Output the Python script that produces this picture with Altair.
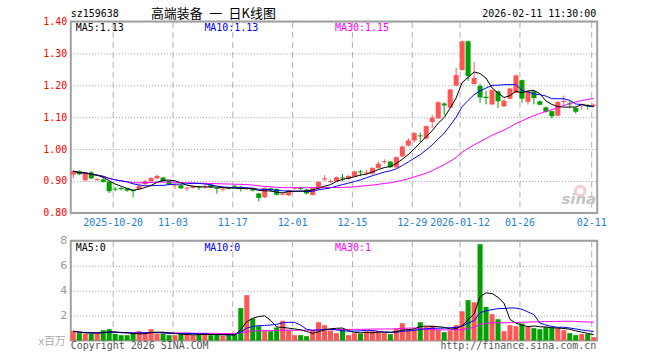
import altair as alt
import pandas as pd

# ---- data (88 trading days, 2025-10-09 .. 2026-02-11) ----
opens = [0.920, 0.931, 0.902, 0.927, 0.903, 0.905, 0.898, 0.876, 0.878, 0.877,
         0.872, 0.875, 0.890, 0.900, 0.908, 0.911, 0.900, 0.886, 0.887, 0.876,
         0.878, 0.883, 0.882, 0.889, 0.878, 0.873, 0.878, 0.885, 0.882, 0.874,
         0.875, 0.861, 0.849, 0.877, 0.875, 0.857, 0.855, 0.876, 0.878, 0.873,
         0.856, 0.877, 0.905, 0.897, 0.899, 0.911, 0.906, 0.914, 0.930, 0.924,
         0.923, 0.941, 0.959, 0.961, 0.943, 0.977, 1.011, 1.027, 1.043, 1.033,
         1.085, 1.096, 1.143, 1.130, 1.199, 1.248, 1.338, 1.204, 1.198, 1.164,
         1.140, 1.181, 1.134, 1.158, 1.176, 1.216, 1.148, 1.181, 1.150, 1.131,
         1.119, 1.105, 1.148, 1.143, 1.129, 1.138, 1.137, 1.136]
closes = [0.931, 0.921, 0.925, 0.908, 0.906, 0.897, 0.868, 0.873, 0.875, 0.870,
          0.868, 0.885, 0.900, 0.909, 0.916, 0.899, 0.890, 0.889, 0.877, 0.879,
          0.884, 0.880, 0.885, 0.880, 0.875, 0.876, 0.875, 0.882, 0.875, 0.877,
          0.870, 0.847, 0.878, 0.872, 0.857, 0.860, 0.870, 0.878, 0.875, 0.861,
          0.877, 0.897, 0.908, 0.900, 0.912, 0.908, 0.916, 0.930, 0.927, 0.927,
          0.941, 0.954, 0.962, 0.943, 0.975, 1.008, 1.027, 1.050, 1.040, 1.072,
          1.098, 1.147, 1.137, 1.187, 1.232, 1.338, 1.229, 1.223, 1.162, 1.160,
          1.185, 1.150, 1.152, 1.190, 1.231, 1.158, 1.181, 1.160, 1.139, 1.117,
          1.103, 1.148, 1.151, 1.140, 1.117, 1.141, 1.134, 1.139]
highs = [0.933, 0.933, 0.927, 0.931, 0.908, 0.912, 0.900, 0.882, 0.882, 0.879,
         0.875, 0.889, 0.904, 0.912, 0.920, 0.913, 0.902, 0.891, 0.889, 0.880,
         0.886, 0.885, 0.890, 0.891, 0.879, 0.878, 0.880, 0.889, 0.884, 0.879,
         0.877, 0.863, 0.880, 0.880, 0.877, 0.864, 0.872, 0.880, 0.880, 0.875,
         0.878, 0.899, 0.918, 0.905, 0.914, 0.922, 0.918, 0.932, 0.935, 0.935,
         0.943, 0.961, 0.968, 0.963, 0.977, 1.012, 1.034, 1.053, 1.052, 1.074,
         1.108, 1.150, 1.146, 1.189, 1.255, 1.340, 1.340, 1.272, 1.205, 1.183,
         1.187, 1.183, 1.155, 1.192, 1.234, 1.218, 1.183, 1.183, 1.152, 1.133,
         1.121, 1.150, 1.168, 1.152, 1.131, 1.143, 1.141, 1.143]
lows = [0.908, 0.918, 0.900, 0.906, 0.900, 0.895, 0.862, 0.868, 0.870, 0.866,
        0.849, 0.873, 0.888, 0.895, 0.905, 0.897, 0.888, 0.875, 0.875, 0.869,
        0.876, 0.872, 0.876, 0.878, 0.860, 0.867, 0.874, 0.878, 0.867, 0.871,
        0.867, 0.836, 0.846, 0.866, 0.855, 0.855, 0.853, 0.872, 0.872, 0.858,
        0.855, 0.872, 0.900, 0.893, 0.897, 0.899, 0.904, 0.912, 0.915, 0.918,
        0.920, 0.938, 0.954, 0.941, 0.941, 0.975, 1.008, 1.020, 1.022, 1.030,
        1.066, 1.094, 1.106, 1.128, 1.197, 1.246, 1.213, 1.202, 1.145, 1.140,
        1.138, 1.129, 1.132, 1.155, 1.174, 1.145, 1.140, 1.140, 1.137, 1.114,
        1.096, 1.103, 1.135, 1.128, 1.111, 1.124, 1.124, 1.131]
volumes = [0.75, 0.59, 0.56, 0.56, 0.56, 0.83, 0.91, 0.53, 0.43, 0.43,
           0.56, 0.75, 0.56, 0.91, 0.56, 0.56, 0.43, 0.43, 0.51, 0.48,
           0.43, 0.51, 0.56, 0.43, 0.48, 0.40, 0.43, 0.48, 2.60, 3.64,
           1.76, 1.15, 0.75, 0.75, 1.04, 1.58, 0.83, 0.43, 0.43, 0.35,
           0.83, 1.47, 1.23, 0.80, 0.59, 0.91, 0.43, 0.59, 0.56, 0.75,
           0.75, 0.75, 0.59, 0.51, 0.94, 1.39, 0.91, 0.91, 1.47, 1.12,
           1.20, 0.85, 0.67, 0.80, 1.23, 2.35, 3.24, 3.07, 7.73, 2.70,
           2.11, 1.71, 0.75, 1.23, 1.15, 1.36, 1.10, 0.99, 0.91, 1.07,
           1.04, 0.99, 0.83, 0.59, 0.43, 0.53, 0.53, 0.27]
tick_idx = [7, 17, 27, 37, 47, 57, 65, 75, 87]
tick_labels = ["2025-10-20", "11-03", "11-17", "12-01", "12-15",
               "12-29", "2026-01-12", "01-26", "02-11"]
price_ticks = [0.8, 0.9, 1.0, 1.1, 1.2, 1.3, 1.4]
vol_ticks = [2, 4, 6, 8]

N = len(closes)
df = pd.DataFrame({"i": list(range(N)), "open": opens, "close": closes,
                   "high": highs, "low": lows, "volume": volumes})

RED = "#ff5555"
GREEN = "#00a000"
MONO = "DejaVu Sans Mono"
W, H1, H2 = 528, 192, 100

label_expr = "".join(f"datum.value == {v} ? '{l}' : " for v, l in zip(tick_idx, tick_labels)) + "''"

xscale = alt.Scale(domain=[0, N], nice=False, zero=False)
color = alt.Color("dir:N", scale=alt.Scale(domain=["up", "down"], range=[RED, GREEN]), legend=None)

base = alt.Chart(df).transform_calculate(
    dir="datum.close >= datum.open ? 'up' : 'down'",
    xl="datum.i",
    xr="datum.i + 0.84",
    xc="datum.i + 0.42",
    zero="0",
)

x_axis_top = alt.Axis(values=tick_idx, labelExpr=label_expr, grid=True,
                      gridDash=[6, 4], gridColor="#b0b0b0", ticks=False,
                      domain=False, labelColor="#1a80d8", labelFont=MONO,
                      labelFontSize=10, labelPadding=5, labelFlush=False,
                      labelOverlap=False)
x_axis_bot = alt.Axis(values=tick_idx, labels=False, grid=True,
                      gridDash=[6, 4], gridColor="#b0b0b0", ticks=False,
                      domain=False)
yprice = alt.Scale(domain=[0.8, 1.4], nice=False, zero=False)
y_axis_price = alt.Axis(values=price_ticks, format=".2f", grid=True, gridDash=[1, 2],
                        gridColor="#999999", ticks=False, domain=False,
                        labelColor="#ff0000", labelFont=MONO, labelFontSize=10,
                        labelPadding=4, labelOverlap=False)
yvol = alt.Scale(domain=[0, 8], nice=False, zero=True)
y_axis_vol = alt.Axis(values=vol_ticks, grid=True, gridDash=[1, 2],
                      gridColor="#999999", ticks=False, domain=False,
                      labelColor="#999999", labelFont="DejaVu Sans",
                      labelFontSize=11, labelPadding=4, labelOverlap=False)


def X(field, ax):
    return alt.X(field, scale=xscale, axis=ax, title=None)


def Y(field, sc, ax):
    return alt.Y(field, scale=sc, axis=ax, title=None)


wick = base.mark_rule(strokeWidth=1).encode(
    x=X("xc:Q", x_axis_top),
    y=Y("low:Q", yprice, y_axis_price),
    y2="high:Q",
    color=color,
)
body = base.mark_rect().encode(
    x=X("xl:Q", x_axis_top),
    x2="xr:Q",
    y=Y("open:Q", yprice, y_axis_price),
    y2="close:Q",
    color=color,
)


def ma_line(field, n, col, sc, xax, yax):
    return base.transform_window(
        ma=f"mean({field})", frame=[-(n - 1), 0], sort=[alt.SortField("i")]
    ).mark_line(color=col, strokeWidth=1).encode(
        x=X("xc:Q", xax),
        y=Y("ma:Q", sc, yax),
    )


one = alt.Chart(pd.DataFrame({"k": [0]}))


def txt(s, x, y, col="#000000", size=10, font=MONO, align="left", **kw):
    return one.mark_text(align=align, baseline="alphabetic", font=font,
                         fontSize=size, color=col, **kw).encode(
        x=alt.value(x), y=alt.value(y), text=alt.value(s))


def frame_rule(x1, x2, y):
    # invisible guide that fixes the outer bounds of the canvas
    return one.mark_rule(opacity=0, strokeWidth=0.5).encode(
        x=alt.value(x1), x2=alt.value(x2), y=alt.value(y))


top = alt.layer(
    wick, body,
    ma_line("close", 30, "#ff00ff", yprice, x_axis_top, y_axis_price),
    ma_line("close", 10, "#0000ff", yprice, x_axis_top, y_axis_price),
    ma_line("close", 5, "#000000", yprice, x_axis_top, y_axis_price),
    txt("MA5:1.13", 5, 10),
    txt("MA10:1.13", 134, 10, "#0000ff"),
    txt("MA30:1.15", 265, 10, "#ff00ff"),
    txt("sz159638", 0, -4),
    txt("高端装备\u2002一\u2002日K线图", 143, -3, size=13, font="Noto Sans CJK SC", align="center"),
    txt("2026-02-11 11:30:00", 527, -4, align="right"),
    txt("sina", 527, 183, "#c4c4c4", size=15, font="DejaVu Sans", align="right",
        fontStyle="italic", fontWeight="bold"),
    one.mark_point(shape="circle", size=90, strokeWidth=3, color="#f2bcbc", filled=False).encode(
        x=alt.value(511), y=alt.value(170)),
    frame_rule(-70, W + 62, -20),
).properties(width=W, height=H1)

vbars = base.mark_rect().encode(
    x=X("xl:Q", x_axis_bot),
    x2="xr:Q",
    y=Y("volume:Q", yvol, y_axis_vol),
    y2="zero:Q",
    color=color,
)

bottom = alt.layer(
    vbars,
    ma_line("volume", 30, "#ff00ff", yvol, x_axis_bot, y_axis_vol),
    ma_line("volume", 10, "#0000ff", yvol, x_axis_bot, y_axis_vol),
    ma_line("volume", 5, "#000000", yvol, x_axis_bot, y_axis_vol),
    txt("MA5:0", 5, 10),
    txt("MA10:0", 134, 10, "#0000ff"),
    txt("MA30:1", 265, 10, "#ff00ff"),
    txt("x百万", -5, 104, "#aaaaaa", size=11, font="Noto Sans CJK SC", align="right"),
    txt("Copyright 2026 SINA.COM", 0, 109, "#555555"),
    txt("http://finance.sina.com.cn", 527, 109, "#555555", align="right"),
    frame_rule(-70, W + 62, H2 + 20),
).properties(width=W, height=H2)

chart = alt.vconcat(top, bottom, spacing=28, bounds="flush").properties(
    padding=0,
    background="white",
).configure_view(stroke="#a0a0a0", strokeWidth=2)

chart.save("out.html", embed_options={"renderer": "svg", "actions": False})
